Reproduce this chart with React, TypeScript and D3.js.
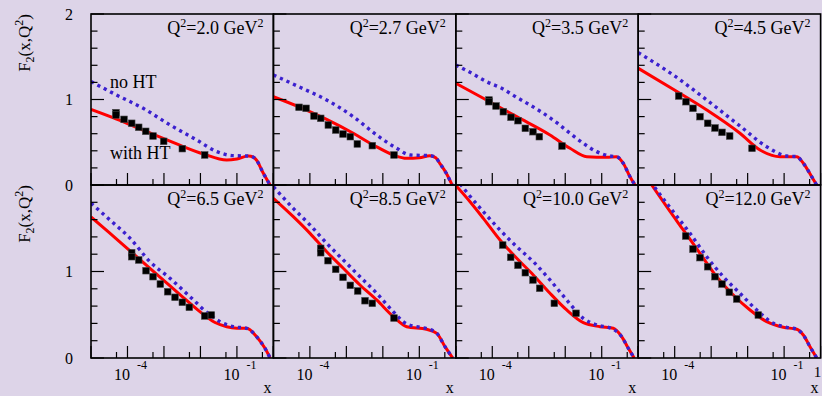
import * as d3 from "d3";

// Q^2 of each panel, in reading order
const q2Labels = ["2.0", "2.7", "3.5", "4.5", "6.5", "8.5", "10.0", "12.0"];

// curves and data: [log10(x), F2]
const withHT20 = [[-5, 0.885], [-4.3, 0.772], [-3.47, 0.623], [-2.65, 0.48], [-1.92, 0.363], [-1.28, 0.292], [-1.0, 0.305], [-0.69, 0.339], [-0.55, 0.325], [-0.46, 0.29], [-0.28, 0.14], [-0.09, 0]];
const noHT20 = [[-5, 1.21], [-4.3, 1.053], [-3.57, 0.897], [-2.83, 0.702], [-2.1, 0.526], [-1.55, 0.39], [-1.1, 0.343], [-0.69, 0.339], [-0.55, 0.325], [-0.46, 0.29], [-0.28, 0.14], [-0.09, 0]];
const data20 = [[-4.315, 0.846], [-4.315, 0.819], [-4.095, 0.768], [-3.884, 0.722], [-3.692, 0.675], [-3.5, 0.628], [-3.3, 0.573], [-3.007, 0.511], [-2.497, 0.425], [-1.883, 0.351]];

const withHT27 = [[-5, 1.033], [-4.27, 0.909], [-3.54, 0.768], [-2.81, 0.605], [-2.26, 0.468], [-1.71, 0.351], [-1.35, 0.312], [-1.0, 0.318], [-0.71, 0.343], [-0.55, 0.32], [-0.44, 0.254], [-0.26, 0.137], [-0.1, 0]];
const noHT27 = [[-5, 1.287], [-4.27, 1.143], [-3.54, 0.994], [-2.81, 0.799], [-2.17, 0.585], [-1.62, 0.429], [-1.25, 0.351], [-0.71, 0.343], [-0.55, 0.32], [-0.44, 0.254], [-0.26, 0.137], [-0.1, 0]];
const data27 = [[-4.298, 0.909], [-4.106, 0.897], [-3.887, 0.807], [-3.703, 0.78], [-3.495, 0.702], [-3.292, 0.643], [-3.092, 0.596], [-2.892, 0.565], [-2.7, 0.48], [-2.289, 0.46], [-1.694, 0.351]];

const withHT35 = [[-5, 1.19], [-4.246, 1.014], [-3.33, 0.799], [-2.418, 0.585], [-1.87, 0.429], [-1.41, 0.331], [-0.863, 0.324], [-0.59, 0.331], [-0.41, 0.254], [-0.225, 0.097], [-0.088, 0]];
const noHT35 = [[-5, 1.404], [-4.564, 1.307], [-4.153, 1.208], [-3.742, 1.131], [-3.33, 1.025], [-2.966, 0.936], [-2.6, 0.839], [-2.234, 0.729], [-1.87, 0.605], [-1.505, 0.488], [-1.138, 0.39], [-0.773, 0.339], [-0.59, 0.331], [-0.41, 0.254], [-0.225, 0.097], [-0.088, 0]];
const data35 = [[-4.09, 0.994], [-4.09, 0.974], [-3.898, 0.924], [-3.698, 0.857], [-3.487, 0.792], [-3.295, 0.752], [-3.095, 0.663], [-2.884, 0.623], [-2.711, 0.565], [-2.089, 0.456]];

const withHT45 = [[-5, 1.365], [-4.04, 1.119], [-3.12, 0.877], [-2.21, 0.605], [-1.66, 0.409], [-1.11, 0.331], [-0.655, 0.331], [-0.474, 0.254], [-0.244, 0.097], [-0.107, 0]];
const noHT45 = [[-5, 1.548], [-4.04, 1.287], [-3.12, 0.994], [-2.21, 0.69], [-1.478, 0.448], [-0.929, 0.339], [-0.655, 0.331], [-0.474, 0.254], [-0.244, 0.097], [-0.107, 0]];
const data45 = [[-3.89, 1.041], [-3.69, 0.974], [-3.498, 0.897], [-3.306, 0.799], [-3.095, 0.722], [-2.895, 0.667], [-2.703, 0.616], [-2.492, 0.573], [-1.88, 0.429]];

const withHT65 = [[-5, 1.63], [-4.5, 1.45], [-4.0, 1.265], [-3.5, 1.08], [-3.0, 0.895], [-2.5, 0.71], [-2.0, 0.53], [-1.6, 0.41], [-1.28, 0.362], [-1.0, 0.345], [-0.73, 0.343], [-0.46, 0.246], [-0.23, 0.112], [-0.09, 0]];
const noHT65 = [[-5, 1.79], [-4.479, 1.595], [-3.93, 1.384], [-3.383, 1.113], [-2.835, 0.921], [-2.286, 0.709], [-1.738, 0.497], [-1.464, 0.42], [-1.1, 0.362], [-0.73, 0.343], [-0.46, 0.246], [-0.23, 0.112], [-0.09, 0]];
const data65 = [[-3.884, 1.217], [-3.884, 1.171], [-3.692, 1.133], [-3.492, 1.009], [-3.3, 0.94], [-3.1, 0.855], [-2.897, 0.766], [-2.697, 0.702], [-2.497, 0.644], [-2.305, 0.586], [-1.883, 0.486], [-1.7, 0.497]];

const withHT85 = [[-5, 1.846], [-4.455, 1.634], [-3.997, 1.441], [-3.539, 1.229], [-3.084, 1.037], [-2.626, 0.844], [-2.168, 0.671], [-1.713, 0.478], [-1.346, 0.362], [-0.8, 0.332], [-0.52, 0.285], [-0.296, 0.131], [-0.085, 0]];
const noHT85 = [[-5, 1.98], [-4.455, 1.73], [-3.997, 1.538], [-3.539, 1.326], [-3.084, 1.133], [-2.626, 0.94], [-2.168, 0.748], [-1.713, 0.535], [-1.346, 0.393], [-0.98, 0.355], [-0.8, 0.34], [-0.52, 0.285], [-0.296, 0.131], [-0.085, 0]];
const data85 = [[-3.703, 1.268], [-3.703, 1.217], [-3.503, 1.125], [-3.292, 1.025], [-3.092, 0.933], [-2.892, 0.84], [-2.689, 0.775], [-2.489, 0.662], [-2.289, 0.632], [-1.694, 0.462]];

const withHT100 = [[-5, 1.995], [-4.61, 1.807], [-4.246, 1.615], [-3.788, 1.364], [-3.33, 1.153], [-2.876, 0.96], [-2.418, 0.748], [-1.96, 0.555], [-1.505, 0.408], [-1.047, 0.362], [-0.683, 0.343], [-0.452, 0.246], [-0.271, 0.112], [-0.11, 0]];
const noHT100 = [[-5, 2.08], [-4.748, 1.942], [-4.246, 1.691], [-3.788, 1.48], [-3.33, 1.287], [-2.876, 1.113], [-2.418, 0.902], [-1.96, 0.671], [-1.505, 0.459], [-1.138, 0.382], [-0.75, 0.345], [-0.452, 0.246], [-0.271, 0.112], [-0.11, 0]];
const data100 = [[-3.714, 1.306], [-3.495, 1.164], [-3.295, 1.072], [-3.095, 0.986], [-2.884, 0.902], [-2.7, 0.806], [-2.3, 0.632], [-1.705, 0.517]];

const withHT120 = [[-5, 2.23], [-4.63, 2.0], [-4.219, 1.749], [-3.764, 1.48], [-3.306, 1.21], [-2.848, 0.94], [-2.393, 0.728], [-1.935, 0.555], [-1.478, 0.42], [-1.022, 0.355], [-0.655, 0.332], [-0.474, 0.266], [-0.29, 0.131], [-0.107, 0]];
const noHT120 = [[-5, 2.25], [-4.493, 1.942], [-4.038, 1.691], [-3.58, 1.441], [-3.122, 1.171], [-2.667, 0.94], [-2.21, 0.748], [-1.752, 0.555], [-1.297, 0.401], [-0.929, 0.355], [-0.655, 0.332], [-0.474, 0.266], [-0.29, 0.131], [-0.107, 0]];
const data120 = [[-3.698, 1.41], [-3.498, 1.26], [-3.306, 1.16], [-3.095, 1.055], [-2.895, 0.94], [-2.703, 0.855], [-2.503, 0.76], [-2.3, 0.682], [-1.708, 0.497]];

const withHT = [withHT20, withHT27, withHT35, withHT45, withHT65, withHT85, withHT100, withHT120];
const noHT = [noHT20, noHT27, noHT35, noHT45, noHT65, noHT85, noHT100, noHT120];
const points = [data20, data27, data35, data45, data65, data85, data100, data120];

const xMajor = [1e-5, 1e-4, 1e-3, 1e-2, 1e-1, 1];
const xMinor = [5e-5, 5e-4, 5e-3, 5e-2, 5e-1];
const xLabels = [["10", "-4", 1e-4], ["10", "-1", 1e-1]];
const yTicks = d3.range(0, 2.001, 0.2);

const bg = "#ddd4e8";
const font = '"Liberation Serif", "Times New Roman", "DejaVu Serif", serif';
const left0 = 91, colW = 182.4;
const rows = [{ top: 14, bottom: 185 }, { top: 185, bottom: 358 }];

export default function App() {
  const panels = q2Labels.map((q, i) => {
    const col = i % 4, row = Math.floor(i / 4);
    const x0 = left0 + col * colW;
    const xs = d3.scaleLog().domain([1e-5, 1]).range([x0, x0 + colW]);
    const ys = d3.scaleLinear().domain([0, 2]).range([rows[row].bottom, rows[row].top]);
    const line = d3.line<number[]>()
      .x(d => xs(Math.pow(10, d[0])))
      .y(d => ys(d[1]))
      .curve(d3.curveMonotoneX);
    return { q, i, col, row, x0, xs, ys, line };
  });

  return (
    <svg width={822} height={396} style={{ position: "absolute", left: 0, top: 0, fontFamily: font }}>
      <rect width={822} height={396} fill={bg} />
      <defs>
        {panels.map(p => (
          <clipPath id={"clip" + p.i} key={p.i}>
            <rect x={p.x0} y={rows[p.row].top} width={colW} height={rows[p.row].bottom - rows[p.row].top} />
          </clipPath>
        ))}
      </defs>
      {panels.map(p => {
        const top = rows[p.row].top, bottom = rows[p.row].bottom;
        return (
          <g key={p.i}>
            <g clipPath={`url(#clip${p.i})`}>
              <path d={p.line(withHT[p.i]) || ""} fill="none" stroke="#ff0000" strokeWidth={3} />
              <path d={p.line(noHT[p.i]) || ""} fill="none" stroke="#3b20cf" strokeWidth={3.4} strokeDasharray="3.2 4" />
              {points[p.i].map((d, k) => (
                <rect key={k} x={p.xs(Math.pow(10, d[0])) - 3.3} y={p.ys(d[1]) - 3.3} width={6.6} height={6.6}
                  fill="#000" stroke="#444" strokeWidth={0.6} />
              ))}
            </g>
            {yTicks.map((v, k) => {
              const major = Math.abs(v - Math.round(v)) < 1e-6;
              return <line key={"y" + k} x1={p.x0} x2={p.x0 + (major ? 13 : 6.5)} y1={p.ys(v)} y2={p.ys(v)} stroke="#000" strokeWidth={1.2} />;
            })}
            {xMajor.map((v, k) => (
              <line key={"xM" + k} x1={p.xs(v)} x2={p.xs(v)} y1={bottom} y2={bottom - 12} stroke="#000" strokeWidth={1.2} />
            ))}
            {xMinor.map((v, k) => (
              <line key={"xm" + k} x1={p.xs(v)} x2={p.xs(v)} y1={bottom} y2={bottom - 6} stroke="#000" strokeWidth={1.2} />
            ))}
            <rect x={p.x0} y={top} width={colW} height={bottom - top} fill="none" stroke="#000" strokeWidth={1.6} />
            <text x={p.x0 + colW - 10} y={top + 20} textAnchor="end" fontSize={18} fill="#000">
              <tspan>Q</tspan>
              <tspan dy={-7} fontSize={12}>2</tspan>
              <tspan dy={7}>{"=" + p.q + " GeV"}</tspan>
              <tspan dy={-7} fontSize={12}>2</tspan>
            </text>
            {p.row === 1 && xLabels.map((l, k) => {
              const tx = p.xs(l[2] as number);
              return (
                <g key={"xl" + k}>
                  <text x={tx + 2.5} y={380} textAnchor="end" fontSize={16}>{l[0]}</text>
                  <text x={tx + 9.5} y={369} fontSize={12}>{l[1]}</text>
                </g>
              );
            })}
            {p.row === 1 && (
              <text x={p.x0 + colW - 6} y={393} textAnchor="middle" fontSize={16}>x</text>
            )}
            {p.row === 1 && p.col === 3 && (
              <text x={p.xs(1) - 3} y={377} textAnchor="middle" fontSize={15}>1</text>
            )}
            {p.col === 0 && (
              <g>
                {(p.row === 0 ? [0, 1, 2] : [0, 1]).map(v => (
                  <text key={v} x={73} y={p.ys(v)} dy="0.35em" textAnchor="end" fontSize={16}>{v}</text>
                ))}
                <text transform={`translate(30,${top}) rotate(-90)`} textAnchor="end" fontSize={17}>
                  <tspan>F</tspan>
                  <tspan dy={4} fontSize={12}>2</tspan>
                  <tspan dy={-4}>(x,Q</tspan>
                  <tspan dy={-7} fontSize={12}>2</tspan>
                  <tspan dy={7}>)</tspan>
                </text>
              </g>
            )}
            {p.i === 0 && (
              <g fontSize={18}>
                <text x={p.x0 + 19} y={88}>no HT</text>
                <text x={p.x0 + 19} y={159}>with HT</text>
              </g>
            )}
          </g>
        );
      })}
    </svg>
  );
}
